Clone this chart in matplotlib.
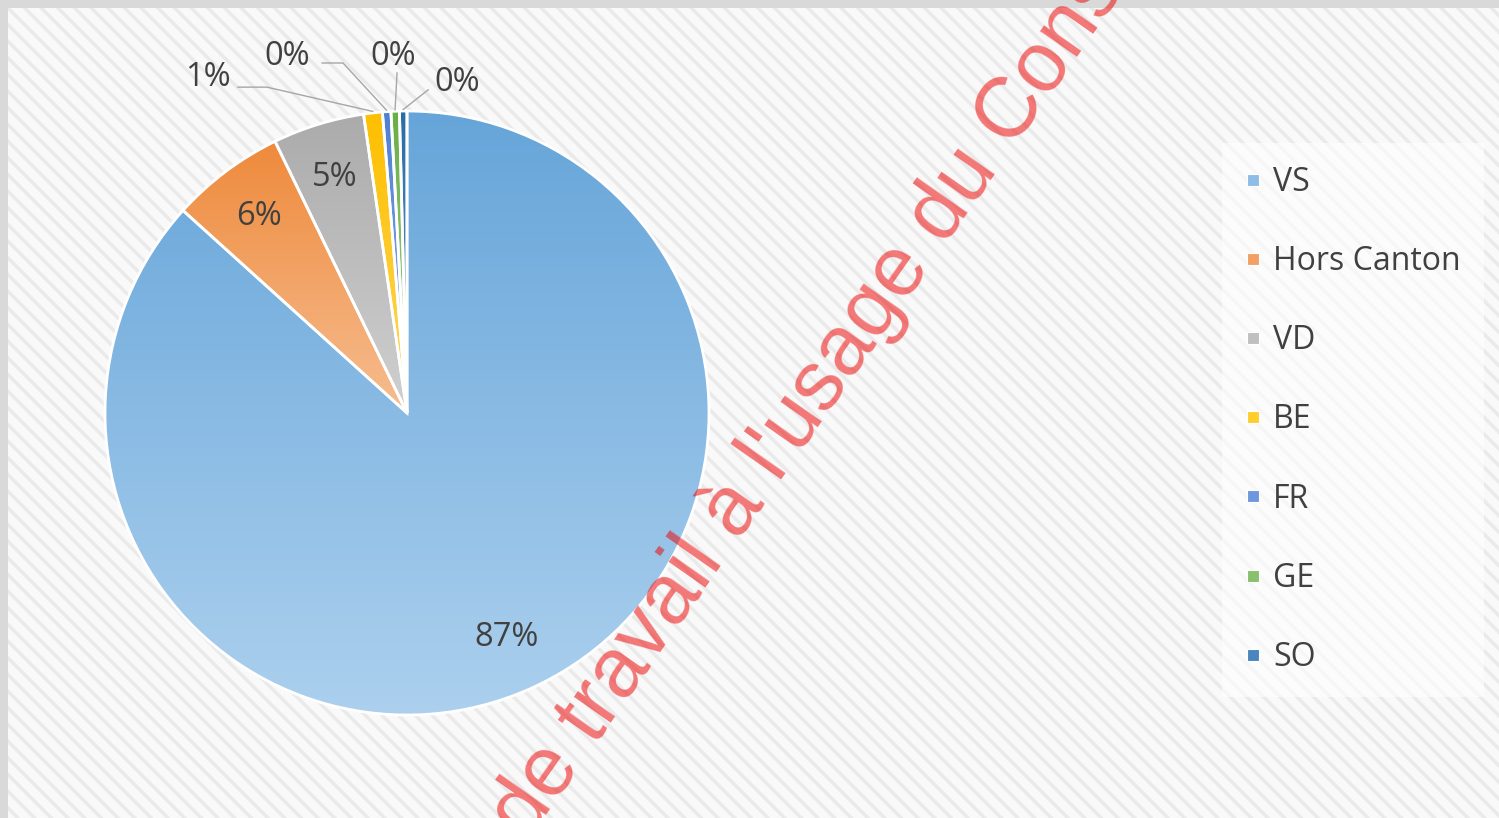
import numpy as np
import matplotlib.pyplot as plt
from matplotlib.colors import LinearSegmentedColormap
from matplotlib.lines import Line2D
from matplotlib.patches import Rectangle

# share of entries by origin (%)
regions = ['VS', 'Hors Canton', 'VD', 'BE', 'FR', 'GE', 'SO']
shares = [86.7, 6.1, 4.9, 1.0, 0.45, 0.45, 0.4]

# gradient colours of each slice (top -> bottom)
top_colors = ['#66a5d9', '#ee8a3c', '#ababab', '#fdbf00', '#4e80d4', '#6aae47', '#2a6da6']
bottom_colors = ['#acd0ee', '#f7bd90', '#d0d0d0', '#ffd75a', '#92b1e8', '#a8d28e', '#6199c9']
legend_colors = ['#8dbde6', '#f3a064', '#c0c0c0', '#fece2e', '#6e97de', '#88c06b', '#4a86bd']

plt.rcParams['font.family'] = ['Open Sans', 'DejaVu Sans']
plt.rcParams['hatch.linewidth'] = 2.5
text_color = '#404040'

fig = plt.figure(figsize=(14.99, 8.18), dpi=100)
fig.patch.set_facecolor('#d9d9d9')
bg = Rectangle((8 / 1499, 0), 1 - 8 / 1499, 810 / 818, transform=fig.transFigure,
               facecolor='#f9f9f9', edgecolor='#eaeaea', hatch='\\\\', linewidth=0, zorder=-1)
fig.add_artist(bg)

lim = 1.3
r_px = 302
cx, cy = 407, 818 - 413
side = 2 * lim * r_px
ax = fig.add_axes([(cx - side / 2) / 1499, (cy - side / 2) / 818, side / 1499, side / 818])

wedges, _ = ax.pie(shares, startangle=90, counterclock=False, radius=1,
                   wedgeprops=dict(edgecolor='white', linewidth=2.0))

grad = np.linspace(0, 1, 256).reshape(-1, 1)
for w, ct, cb in zip(wedges, top_colors, bottom_colors):
    bb = w.get_path().get_extents()
    cmap = LinearSegmentedColormap.from_list('g', [ct, cb])
    im = ax.imshow(grad, cmap=cmap, extent=(bb.x0, bb.x1, bb.y0, bb.y1),
                   origin='upper', aspect='auto', zorder=1, interpolation='bilinear')
    im.set_clip_path(w)
    w.set_facecolor('none')
    w.set_zorder(2)

ax.set_xlim(-lim, lim)
ax.set_ylim(-lim, lim)
ax.axis('off')

# labels inside the large slices
for i in range(3):
    w = wedges[i]
    th = np.deg2rad((w.theta1 + w.theta2) / 2)
    ax.text(0.815 * np.cos(th), 0.815 * np.sin(th), f'{shares[i]:.0f}%', ha='center', va='center',
            fontsize=23.5, color=text_color, zorder=3)

# labels outside the small slices, with leader lines
outside = {
    3: ((-0.659, 1.110), [(-0.560, 1.079), (-0.464, 1.079)]),
    4: ((-0.397, 1.179), [(-0.281, 1.159), (-0.212, 1.159)]),
    5: ((-0.046, 1.179), [(-0.033, 1.126)]),
    6: ((0.166, 1.096), [(0.070, 1.070)]),
}
for i, (pos, pts) in outside.items():
    w = wedges[i]
    th = np.deg2rad((w.theta1 + w.theta2) / 2)
    rim = (1.005 * np.cos(th), 1.005 * np.sin(th))
    xs = [p[0] for p in pts] + [rim[0]]
    ys = [p[1] for p in pts] + [rim[1]]
    ax.plot(xs, ys, color='#a6a6a6', lw=1.0, zorder=3, clip_on=False)
    ax.text(pos[0], pos[1], f'{shares[i]:.0f}%', ha='center', va='center',
            fontsize=23.5, color=text_color, zorder=3, clip_on=False)

handles = [Line2D([], [], marker='s', linestyle='', markersize=8,
                  markerfacecolor=c, markeredgecolor='white', markeredgewidth=0.8)
           for c in legend_colors]
leg = fig.legend(handles, regions, loc='upper left', bbox_to_anchor=(1222 / 1499, 1 - 143 / 818),
                 fontsize=23, labelspacing=1.445, handlelength=0.5, handletextpad=0.375,
                 borderpad=0.72, borderaxespad=0, frameon=True, fancybox=False,
                 labelcolor=text_color)
leg.get_frame().set_facecolor('white')
leg.get_frame().set_alpha(0.6)
leg.get_frame().set_edgecolor('none')

# watermark
fig.text(527 / 1499, (818 - 842.5) / 818, "de travail à l'usage du Conseil", rotation=55,
         rotation_mode='anchor', ha='left', va='baseline', fontsize=61,
         family='Liberation Sans', color='#ee0000', alpha=0.52, zorder=5)

fig.savefig('out.png', dpi=100)
